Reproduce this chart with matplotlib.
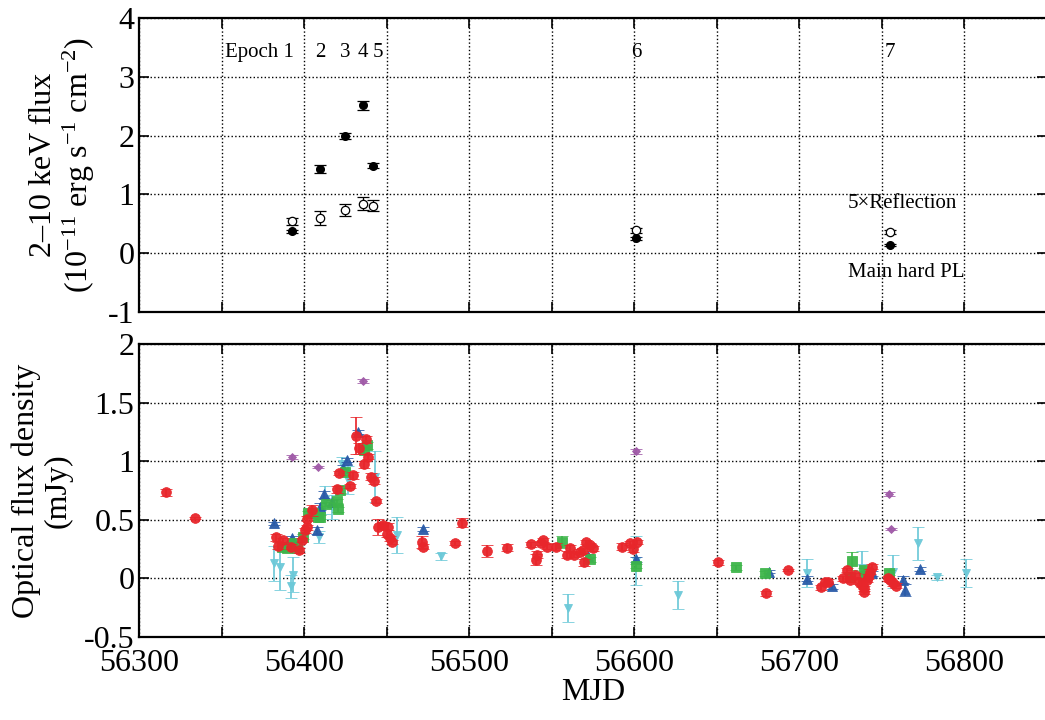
import matplotlib

matplotlib.use("Agg")
import matplotlib.pyplot as plt
from matplotlib.ticker import MultipleLocator

plt.rcParams["font.family"] = ["Liberation Serif", "DejaVu Serif"]
plt.rcParams["mathtext.fontset"] = "custom"
plt.rcParams["mathtext.rm"] = "Liberation Serif"
plt.rcParams["mathtext.it"] = "Liberation Serif:italic"
plt.rcParams["axes.unicode_minus"] = False

# X-ray epochs: main hard power law and 5x reflection component
EPOCH_MJD = [56392.8, 56409.6, 56424.7, 56435.8, 56441.9, 56601.0, 56755.0]
EPOCH_NAMES = ["1", "2", "3", "4", "5", "6", "7"]
PL_FLUX = [0.37, 1.43, 1.99, 2.52, 1.49, 0.25, 0.14]
PL_ERR = [0.02, 0.07, 0.05, 0.08, 0.04, 0.03, 0.02]
REFL_FLUX = [0.54, 0.60, 0.73, 0.84, 0.81, 0.39, 0.36]
REFL_ERR = [0.06, 0.12, 0.10, 0.11, 0.09, 0.04, 0.03]

# optical light curves (mJy)
RED_MJD = [56316, 56334, 56383, 56384, 56387, 56392, 56397, 56398.5, 56400.5,
           56402, 56401.5, 56405, 56420, 56421, 56428, 56429.5, 56431.5,
           56433.5, 56436.5, 56437.5, 56438.5, 56440.5, 56442.5, 56443.5,
           56444.5, 56448, 56451, 56450, 56452, 56453, 56471.5, 56472,
           56491.5, 56495.5, 56510.5, 56523, 56537.5, 56541, 56540.5,
           56543.5, 56544.5, 56547, 56552.5, 56559, 56561, 56563.5, 56567,
           56569, 56571, 56573, 56575, 56569.5, 56592.5, 56597.5, 56599.5,
           56601.5, 56651, 56680, 56693, 56713.5, 56715.5, 56717.5, 56726.5,
           56729, 56731, 56734, 56736, 56738, 56739, 56739.5, 56741, 56742,
           56743, 56744, 56754, 56755, 56757, 56758.5]
RED_FLUX = [0.734, 0.517, 0.35, 0.276, 0.327, 0.27, 0.24, 0.327, 0.41,
            0.435, 0.51, 0.58, 0.76, 0.90, 0.79, 0.88, 1.22,
            1.11, 0.975, 1.19, 1.04, 0.87, 0.833, 0.66,
            0.44, 0.455, 0.44, 0.38, 0.34, 0.31, 0.31, 0.27,
            0.30, 0.474, 0.23, 0.26, 0.29, 0.20, 0.16,
            0.30, 0.327, 0.27, 0.27, 0.20, 0.256, 0.20, 0.227,
            0.24, 0.31, 0.284, 0.256, 0.137, 0.27, 0.30, 0.247,
            0.31, 0.137, -0.128, 0.071, -0.077, -0.03, -0.03, 0.0,
            0.07, -0.015, 0.028, -0.03, -0.057, -0.114, -0.085, -0.015, 0.014,
            0.057, 0.10, 0.0, -0.015, -0.043, -0.063]
RED_ERR = [0.03, 0.01, 0.03, 0.03, 0.02, 0.02, 0.02, 0.02, 0.02,
           0.02, 0.02, 0.045, 0.03, 0.02, 0.02, 0.03, 0.16,
           0.05, 0.03, 0.03, 0.02, 0.03, 0.03, 0.02,
           0.07, 0.03, 0.03, 0.03, 0.02, 0.02, 0.05, 0.02,
           0.02, 0.04, 0.05, 0.03, 0.02, 0.03, 0.05,
           0.02, 0.02, 0.02, 0.03, 0.03, 0.03, 0.02, 0.02,
           0.02, 0.02, 0.02, 0.02, 0.03, 0.03, 0.02, 0.02,
           0.02, 0.02, 0.02, 0.01, 0.02, 0.02, 0.02, 0.02,
           0.02, 0.02, 0.02, 0.02, 0.02, 0.02, 0.02, 0.02, 0.02,
           0.02, 0.02, 0.02, 0.02, 0.02, 0.02]

GREEN_MJD = [56386.5, 56389.5, 56392.5, 56395.5, 56399.5, 56402.5, 56405.5,
             56408.5, 56409.5, 56413.5, 56419.7, 56420.5, 56421.7, 56424.7,
             56436, 56438, 56556, 56573, 56601, 56662, 56679, 56732, 56731,
             56739, 56740, 56754.5]
GREEN_FLUX = [0.265, 0.256, 0.30, 0.256, 0.355, 0.555, 0.555,
              0.52, 0.525, 0.634, 0.66, 0.59, 0.753, 0.907,
              1.095, 1.137, 0.31, 0.162, 0.105, 0.094, 0.043, 0.147, 0.014,
              0.07, 0.02, 0.048]
GREEN_ERR = [0.02, 0.02, 0.02, 0.02, 0.02, 0.02, 0.02,
             0.02, 0.02, 0.02, 0.02, 0.02, 0.02, 0.02,
             0.03, 0.03, 0.05, 0.02, 0.02, 0.02, 0.02, 0.08, 0.02,
             0.02, 0.02, 0.02]

BLUE_MJD = [56382, 56392.5, 56407.5, 56409.5, 56412, 56416.7, 56423.7,
            56425.8, 56432.4, 56472, 56572, 56601, 56682, 56705, 56720,
            56744, 56763, 56764, 56773]
BLUE_FLUX = [0.469, 0.34, 0.41, 0.61, 0.72, 0.65, 0.947,
             1.01, 1.25, 0.42, 0.19, 0.162, 0.057, -0.003, -0.07,
             0.043, -0.015, -0.10, 0.08]
BLUE_ERR = [0.01, 0.02, 0.03, 0.03, 0.03, 0.02, 0.02,
            0.02, 0.02, 0.02, 0.02, 0.02, 0.01, 0.02, 0.02,
            0.02, 0.03, 0.05, 0.02]

CYAN_MJD = [56382, 56385.3, 56392, 56393, 56409, 56412.6, 56416.7, 56422.7,
            56426.7, 56443, 56456, 56483, 56560, 56601, 56626.7, 56705,
            56738, 56756.7, 56772, 56783.7, 56801]
CYAN_FLUX = [0.128, 0.10, -0.07, 0.03, 0.355, 0.67, 0.61, 0.98,
             0.84, 0.87, 0.37, 0.19, -0.256, 0.15, -0.14, 0.043,
             0.085, 0.057, 0.30, 0.008, 0.043]
CYAN_ERR = [0.15, 0.2, 0.10, 0.15, 0.05, 0.12, 0.10, 0.06,
            0.12, 0.22, 0.15, 0.03, 0.12, 0.21, 0.12, 0.12,
            0.15, 0.14, 0.14, 0.02, 0.12]

PURPLE_MJD = [56392.4, 56408.2, 56435.4, 56601, 56754.6, 56755.6]
PURPLE_FLUX = [1.038, 0.952, 1.686, 1.086, 0.72, 0.42]
PURPLE_ERR = [0.02, 0.01, 0.02, 0.02, 0.015, 0.01]

RED = "#e8262b"
GREEN = "#3db54a"
BLUE = "#2a5ba8"
CYAN = "#6cc9d8"
PURPLE = "#a05ba8"

fig = plt.figure(figsize=(10.45, 7.2), dpi=100)
ax1 = fig.add_axes([0.1332, 0.567, 0.8684, 0.4075])
ax2 = fig.add_axes([0.1332, 0.1157, 0.8684, 0.406])

for ax in (ax1, ax2):
    ax.set_xlim(56300, 56850)
    ax.xaxis.set_major_locator(MultipleLocator(100))
    ax.xaxis.set_minor_locator(MultipleLocator(50))
    ax.tick_params(which="both", direction="in", top=True, right=True,
                   length=7, width=1.2, labelsize=23)
    ax.tick_params(axis="x", pad=9)
    ax.grid(True, which="both", ls=":", lw=1.0, color="black")
    for s in ax.spines.values():
        s.set_linewidth(1.6)

# X-ray panel
ax1.errorbar(EPOCH_MJD, REFL_FLUX, yerr=REFL_ERR, fmt="o", ms=6, mfc="white",
             mec="black", mew=0.9, ecolor="black", elinewidth=0.9, capsize=4,
             capthick=0.9, zorder=3)
ax1.errorbar(EPOCH_MJD, PL_FLUX, yerr=PL_ERR, fmt="o", ms=5.5, color="black",
             ecolor="black", elinewidth=0.9, capsize=4, capthick=0.9, zorder=3)
ax1.set_ylim(-1, 4)
ax1.yaxis.set_major_locator(MultipleLocator(1))
ax1.tick_params(labelbottom=False)
ax1.set_ylabel("2\u201310 keV flux\n(10$^{-11}$ erg s$^{-1}$ cm$^{-2}$)",
               fontsize=23, linespacing=1.1, labelpad=8)

# epoch numbers above the points; "5" nudged right so it clears "4"
ax1.text(EPOCH_MJD[0] + 1, 3.42, "Epoch " + EPOCH_NAMES[0], fontsize=15,
         ha="right", va="center")
for m, name in zip(EPOCH_MJD[1:], EPOCH_NAMES[1:]):
    dx = 2.5 if name == "5" else 0
    ax1.text(m + dx, 3.42, name, fontsize=15, ha="center", va="center")
ax1.text(56729.5, 0.85, "5\u00d7Reflection", fontsize=15, ha="left", va="center")
ax1.text(56729.5, -0.33, "Main hard PL", fontsize=15, ha="left", va="center")

# optical panel
series = [
    (CYAN_MJD, CYAN_FLUX, CYAN_ERR, CYAN, "v", 6),
    (PURPLE_MJD, PURPLE_FLUX, PURPLE_ERR, PURPLE, "D", 4),
    (BLUE_MJD, BLUE_FLUX, BLUE_ERR, BLUE, "^", 6.5),
    (GREEN_MJD, GREEN_FLUX, GREEN_ERR, GREEN, "s", 6.5),
    (RED_MJD, RED_FLUX, RED_ERR, RED, "o", 7),
]
for i, (x, y, e, c, mk, ms) in enumerate(series):
    ax2.errorbar(x, y, yerr=e, fmt=mk, ms=ms, color=c, mec=c, mew=0.6,
                 ecolor=c, elinewidth=1.3, capsize=4, capthick=1.3,
                 alpha=0.95, zorder=3 + i)

ax2.set_ylim(-0.5, 2)
ax2.yaxis.set_major_locator(MultipleLocator(0.5))
ax2.yaxis.set_major_formatter(plt.FuncFormatter(lambda v, p: f"{v:g}"))
ax2.set_ylabel("Optical flux density\n(mJy)", fontsize=23, linespacing=1.1,
               labelpad=8)
ax2.set_xlabel("MJD", fontsize=23, labelpad=0)

fig.savefig("out.png", dpi=100)
